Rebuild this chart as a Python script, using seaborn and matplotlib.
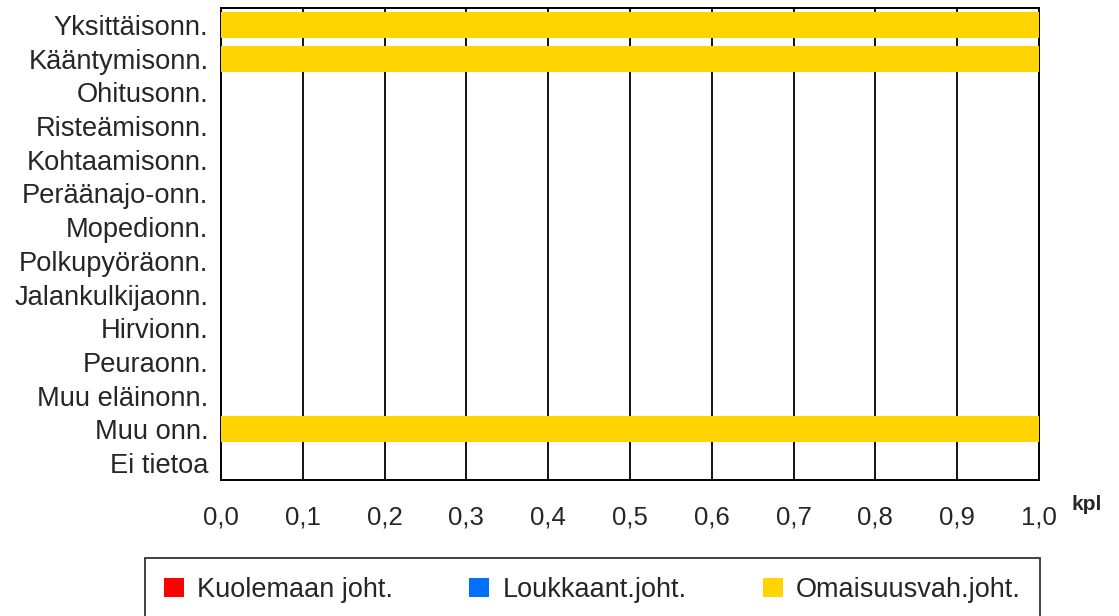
import pandas as pd
import matplotlib.pyplot as plt
from matplotlib.patches import Patch
import seaborn as sns

# Accident types and counts per severity (kpl)
categories = ["Yksittäisonn.", "Kääntymisonn.", "Ohitusonn.", "Risteämisonn.",
              "Kohtaamisonn.", "Peräänajo-onn.", "Mopedionn.", "Polkupyöräonn.",
              "Jalankulkijaonn.", "Hirvionn.", "Peuraonn.", "Muu eläinonn.",
              "Muu onn.", "Ei tietoa"]
kuolemaan = [0, 0, 0, 0, 0, 0, 0, 0, 0, 0, 0, 0, 0, 0]
loukkaant = [0, 0, 0, 0, 0, 0, 0, 0, 0, 0, 0, 0, 0, 0]
omaisuus = [1, 1, 0, 0, 0, 0, 0, 0, 0, 0, 0, 0, 1, 0]
x_ticks = [0.0, 0.1, 0.2, 0.3, 0.4, 0.5, 0.6, 0.7, 0.8, 0.9, 1.0]
series_names = ["Kuolemaan joht.", "Loukkaant.joht.", "Omaisuusvah.joht."]
colors = ["#FF0000", "#0070FF", "#FFD400"]

df = pd.DataFrame({"cat": categories, "k": kuolemaan, "l": loukkaant, "o": omaisuus})
df["k_l"] = df["k"] + df["l"]
df["total"] = df["k_l"] + df["o"]

sns.set_style("white")
plt.rcParams["font.family"] = ["Liberation Sans", "DejaVu Sans"]

W, H = 1119, 616
fig = plt.figure(figsize=(W / 100, H / 100), dpi=100)
ax = fig.add_axes([221 / W, 1 - 480 / H, (1039 - 221) / W, (480 - 8) / H])

# stacked bars: draw cumulative totals back to front
for col, c in zip(["total", "k_l", "k"], colors[::-1]):
    sns.barplot(data=df, x=col, y="cat", orient="h", color=c, width=0.77,
                saturation=1, linewidth=0, ax=ax, zorder=3)

ax.set_xlim(0, 1.0)
ax.set_ylim(len(categories) - 0.5, -0.5)
ax.set_xticks(x_ticks)
ax.set_xticklabels([f"{t:.1f}".replace(".", ",") for t in x_ticks], fontsize=18.5)
ax.tick_params(axis="x", length=0, pad=18)
ax.tick_params(axis="y", length=0, pad=9, labelsize=19.6)
ax.set_xlabel("")
ax.set_ylabel("")
for t in x_ticks[1:-1]:
    ax.axvline(t, color="black", lw=1.3, zorder=1)
for s in ax.spines.values():
    s.set_color("black")
    s.set_linewidth(1.4)
    s.set_visible(True)

fig.text(1087 / W, 1 - 505 / H, "kpl", fontsize=15, fontweight="bold",
         ha="center", va="center")

handles = [Patch(facecolor=c, edgecolor="none") for c in colors]
leg = fig.legend(handles, series_names, loc="upper left", ncol=3, mode="expand",
                 bbox_to_anchor=(145 / W, 0, (1040 - 145) / W, 1 - 558 / H),
                 fontsize=19.5, frameon=True, fancybox=False,
                 handlelength=0.73, handleheight=0.73, handletextpad=0.5,
                 borderpad=0.7, borderaxespad=0)
leg.get_frame().set_edgecolor("black")
leg.get_frame().set_linewidth(1.3)

plt.savefig("out.png", dpi=100)
plt.close()
